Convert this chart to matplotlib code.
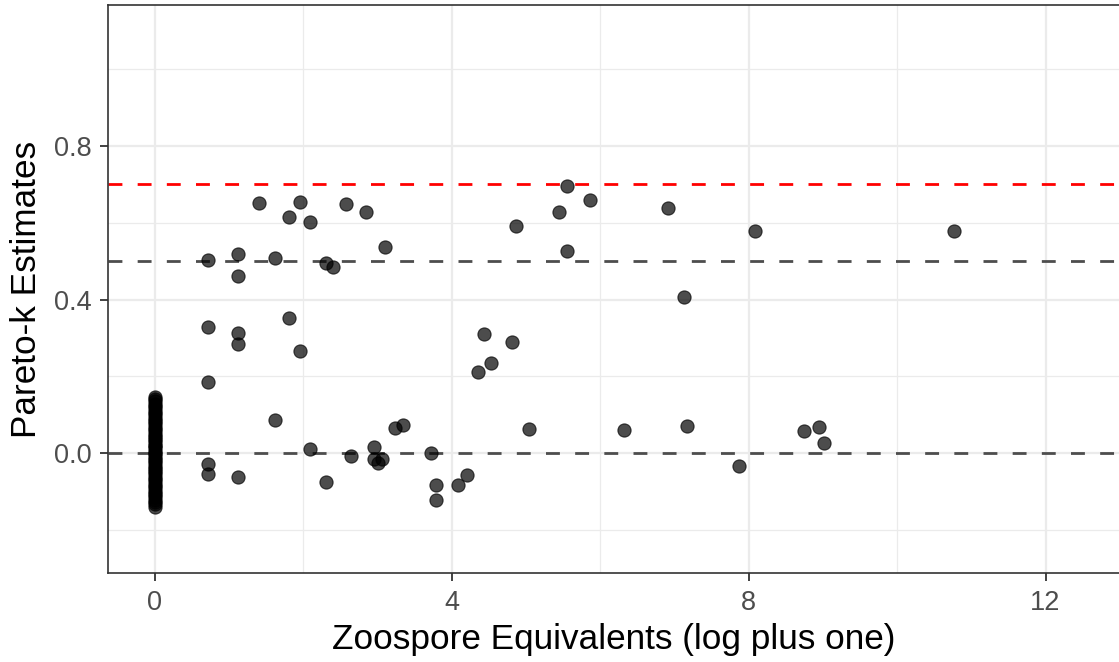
import matplotlib
matplotlib.use("Agg")
import matplotlib.pyplot as plt
from matplotlib.ticker import MultipleLocator

plt.rcParams['font.family'] = ['Liberation Sans', 'DejaVu Sans']

# Zero-load samples (x = 0)
zero_k = [0.145, 0.14, 0.135, 0.128, 0.122, 0.117, 0.11, 0.104, 0.098, 0.092,
          0.086, 0.08, 0.075, 0.068, 0.062, 0.056, 0.05, 0.045, 0.04, 0.034,
          0.028, 0.022, 0.017, 0.012, 0.006, 0.001, -0.004, -0.01, -0.016, -0.021,
          -0.027, -0.033, -0.039, -0.045, -0.05, -0.056, -0.062, -0.068, -0.074, -0.08,
          -0.086, -0.092, -0.098, -0.104, -0.11, -0.116, -0.122, -0.128, -0.134, -0.14]

# Non-zero samples
load_x = [0.71, 0.71, 0.71, 0.71, 0.71, 1.12, 1.12, 1.12, 1.12, 1.12,
          1.40, 1.62, 1.62, 1.81, 1.81, 1.95, 1.95, 2.09, 2.09, 2.30,
          2.40, 2.30, 2.58, 2.64, 2.84, 2.95, 2.95, 3.00, 3.06, 3.10,
          3.23, 3.34, 3.72, 3.79, 3.79, 4.08, 4.20, 4.35, 4.44, 4.53,
          4.81, 4.87, 5.04, 5.44, 5.55, 5.55, 5.86, 6.32, 6.91, 7.13,
          7.17, 7.87, 8.09, 8.75, 8.95, 9.02, 10.77]
load_k = [0.503, 0.329, 0.185, -0.029, -0.055, 0.520, 0.462, 0.313, 0.284, -0.062,
          0.652, 0.508, 0.086, 0.616, 0.352, 0.654, 0.266, 0.602, 0.010, 0.495,
          0.486, -0.076, 0.650, -0.008, 0.628, 0.016, -0.015, -0.025, -0.015, 0.537,
          0.065, 0.073, 0.0, -0.083, -0.123, -0.083, -0.057, 0.212, 0.310, 0.235,
          0.289, 0.592, 0.063, 0.628, 0.696, 0.527, 0.660, 0.060, 0.639, 0.407,
          0.070, -0.034, 0.579, 0.057, 0.068, 0.026, 0.579]

ref_lines = [0.7, 0.5, 0.0]
ref_colors = ['#FF0000', '#4D4D4D', '#4D4D4D']

fig = plt.figure(figsize=(11.19, 6.62), dpi=100)
ax = fig.add_axes([108/1119, 89/662, 1 - 108/1119, 568/662])

ax.set_xlim(-0.633, 12.99)
ax.set_ylim(-0.313, 1.168)

ax.xaxis.set_minor_locator(MultipleLocator(2))
ax.yaxis.set_minor_locator(MultipleLocator(0.2))
ax.set_xticks([0, 4, 8, 12])
ax.set_yticks([0.0, 0.4, 0.8])
ax.set_yticklabels(['0.0', '0.4', '0.8'])

ax.grid(which='major', color='#EBEBEB', linewidth=1.6, zorder=0)
ax.grid(which='minor', color='#EBEBEB', linewidth=0.9, zorder=0)
ax.set_axisbelow(True)

for y, c in zip(ref_lines, ref_colors):
    ax.axhline(y, color=c, linestyle=(0, (5, 5.5)), linewidth=2.0, zorder=2)

ax.scatter([0] * len(zero_k), zero_k, s=90, color='black', alpha=0.7,
           edgecolors='black', linewidths=0.8, zorder=3)
ax.scatter(load_x, load_k, s=90, color='black', alpha=0.7,
           edgecolors='black', linewidths=0.8, zorder=3)

for side in ['left', 'bottom', 'top']:
    ax.spines[side].set_color('#333333')
    ax.spines[side].set_linewidth(1.2)
ax.spines['right'].set_visible(False)

ax.tick_params(which='major', length=5.5, width=1.3, color='#333333',
               labelcolor='#4D4D4D', labelsize=19.5)
ax.tick_params(axis='x', which='major', pad=7)
ax.tick_params(axis='y', which='major', pad=6)
ax.tick_params(which='minor', length=0)

ax.set_xlabel('Zoospore Equivalents (log plus one)', fontsize=25.3, color='black', labelpad=5)
ax.set_ylabel('Pareto-k Estimates', fontsize=25.3, color='black', labelpad=8)

fig.savefig('out.png', dpi=100)
